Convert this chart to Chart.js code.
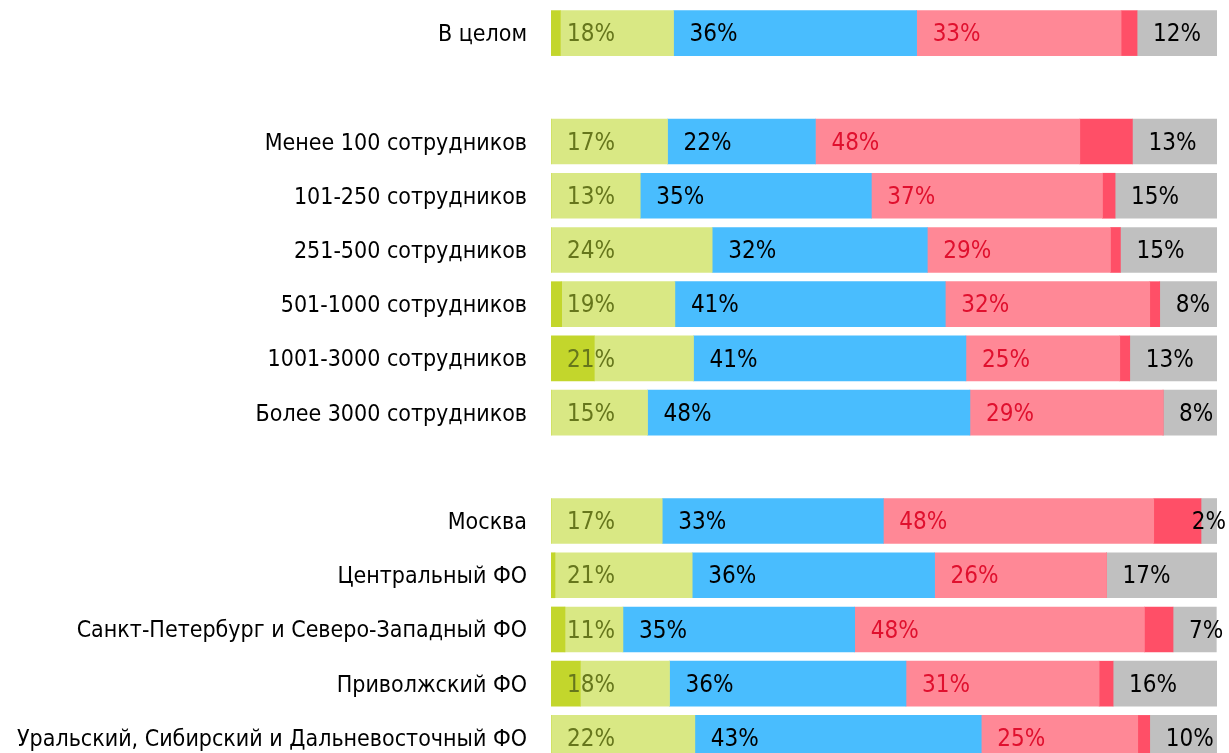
<!DOCTYPE html>
<html>
<head>
<meta charset="utf-8">
<script src="https://cdn.jsdelivr.net/npm/chart.js@4/dist/chart.umd.min.js"></script>
<style>
  html, body { margin: 0; padding: 0; background: #fff; overflow: hidden; }
  #wrap { width: 1229px; height: 766px; }
</style>
</head>
<body>
<div id="wrap"><canvas id="grafico" width="1229" height="766"></canvas></div>
<script>
// категории (пустые строки - разрывы между группами)
const categorias = [
  'В целом', '',
  'Менее 100 сотрудников', '101-250 сотрудников', '251-500 сотрудников',
  '501-1000 сотрудников', '1001-3000 сотрудников', 'Более 3000 сотрудников', '',
  'Москва', 'Центральный ФО', 'Санкт-Петербург и Северо-Западный ФО',
  'Приволжский ФО', 'Уральский, Сибирский и Дальневосточный ФО'
];

// доли сегментов, %
const verdeOscuro = [1.4, null, 0, 0, 0, 1.6, 6.5, 0, null, 0, 0.6, 2.1, 4.4, 0];
const verdeClaro  = [17.0, null, 17.5, 13.4, 24.2, 17.0, 14.9, 14.5, null, 16.7, 20.6, 8.7, 13.4, 21.6];
const azul        = [36.5, null, 22.2, 34.7, 32.3, 40.6, 40.9, 48.4, null, 33.2, 36.4, 34.8, 35.5, 43.0];
const rosa        = [30.7, null, 39.7, 34.7, 27.5, 30.7, 23.1, 29.0, null, 40.6, 25.8, 43.5, 29.0, 23.5];
const rojo        = [2.4, null, 7.9, 1.9, 1.5, 1.5, 1.5, 0, null, 7.1, 0, 4.3, 2.1, 1.8];
const gris        = [12.0, null, 12.7, 15.4, 14.6, 8.6, 13.2, 8.1, null, 2.4, 16.6, 6.5, 15.6, 10.1];

// подписи на сегментах
const etiqVerde = [18, null, 17, 13, 24, 19, 21, 15, null, 17, 21, 11, 18, 22];
const etiqAzul  = [36, null, 22, 35, 32, 41, 41, 48, null, 33, 36, 35, 36, 43];
const etiqRosa  = [33, null, 48, 37, 29, 32, 25, 29, null, 48, 26, 48, 31, 25];
const etiqGris  = [12, null, 13, 15, 15, 8, 13, 8, null, 2, 17, 7, 16, 10];

const FUENTE = "'DejaVu Sans Condensed', 'DejaVu Sans', sans-serif";

const etiquetas = {
  id: 'etiquetas',
  afterDatasetsDraw(chart) {
    const ctx = chart.ctx;
    const grupos = [
      { ds: 0, vals: etiqVerde, color: '#66761c' },
      { ds: 2, vals: etiqAzul, color: '#000000' },
      { ds: 3, vals: etiqRosa, color: '#e0102e' },
      { ds: 5, vals: etiqGris, color: '#000000' }
    ];
    ctx.save();
    ctx.font = '24px ' + FUENTE;
    ctx.textBaseline = 'middle';
    ctx.textAlign = 'left';
    grupos.forEach(g => {
      const meta = chart.getDatasetMeta(g.ds);
      g.vals.forEach((v, i) => {
        if (v === null) return;
        const bar = meta.data[i];
        const txt = v + '%';
        const w = ctx.measureText(txt).width;
        const x = Math.min(bar.base + 16, chart.width - 3 - w);
        ctx.fillStyle = g.color;
        ctx.fillText(txt, x, bar.y + 2);
      });
    });
    ctx.restore();
  }
};

function serie(datos, color) {
  return { data: datos, backgroundColor: color, borderWidth: 0, barThickness: 45 };
}

new Chart(document.getElementById('grafico'), {
  type: 'bar',
  data: {
    labels: categorias,
    datasets: [
      serie(verdeOscuro, '#c3d62c'),
      serie(verdeClaro, '#d9e884'),
      serie(azul, '#49bdfe'),
      serie(rosa, '#ff8896'),
      serie(rojo, '#ff4f67'),
      serie(gris, '#c0c0c0')
    ]
  },
  options: {
    indexAxis: 'y',
    responsive: false,
    animation: false,
    layout: { padding: { top: 6, bottom: 1, right: 12, left: 0 } },
    plugins: { legend: { display: false }, tooltip: { enabled: false } },
    scales: {
      x: { stacked: true, min: 0, max: 100, display: false },
      y: {
        stacked: true,
        grid: { display: false, drawTicks: false },
        border: { display: false },
        ticks: { color: '#000', padding: 24, labelOffset: 2, font: { size: 23, family: FUENTE }, autoSkip: false },
        afterFit(scale) {
          scale.width = 551;
          scale.paddingTop = 0;
          scale.paddingBottom = 0;
        }
      }
    }
  },
  plugins: [etiquetas]
});
</script>
</body>
</html>
